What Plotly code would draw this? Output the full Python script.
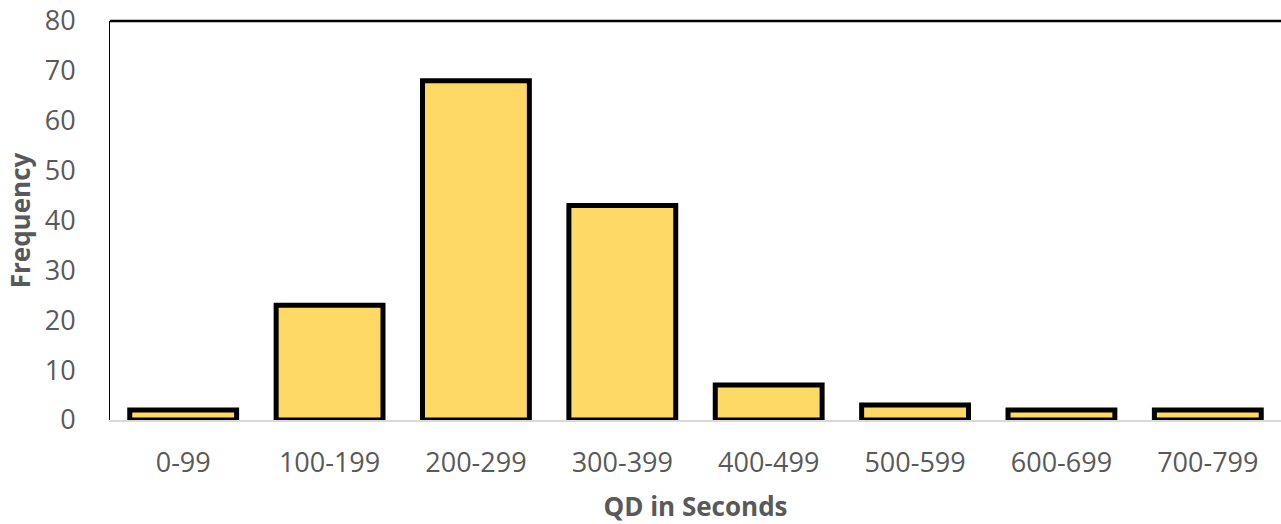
import plotly.graph_objects as go

# Histogram of QD durations binned in 100-second ranges
bins = ["0-99", "100-199", "200-299", "300-399", "400-499", "500-599", "600-699", "700-799"]
frequency = [2, 23, 68, 43, 7, 3, 2, 2]
y_ticks = [0, 10, 20, 30, 40, 50, 60, 70, 80]

fig = go.Figure(
    go.Bar(
        x=bins,
        y=frequency,
        marker=dict(color="#FFD966", line=dict(color="black", width=5)),
    )
)

tick_font = dict(family="Open Sans, DejaVu Sans, sans-serif", size=27, color="#595959")
title_font = dict(family="Open Sans, DejaVu Sans, sans-serif", size=26, color="#595959")

fig.update_layout(
    width=1281,
    height=524,
    margin=dict(l=110, r=0, t=21, b=104),
    paper_bgcolor="white",
    plot_bgcolor="white",
    bargap=0.27,
    showlegend=False,
    xaxis=dict(
        title=dict(text="<b>QD in Seconds</b>", font=title_font, standoff=22),
        tickfont=tick_font,
        showline=True,
        linecolor="#d9d9d9",
        linewidth=2,
        showgrid=False,
        ticks="outside",
        ticklen=18,
        tickcolor="rgba(0,0,0,0)",
    ),
    yaxis=dict(
        title=dict(text="<b>Frequency</b>", font=title_font, standoff=6),
        range=[0, 80],
        tickvals=y_ticks,
        tickfont=tick_font,
        showline=True,
        linecolor="black",
        linewidth=1,
        showgrid=False,
        zeroline=False,
        ticks="outside",
        ticklen=28,
        tickcolor="rgba(0,0,0,0)",
    ),
    shapes=[
        dict(type="line", xref="paper", yref="paper", x0=0, x1=1, y0=1, y1=1,
             line=dict(color="black", width=2.5)),
    ],
)

fig.write_html("out.html")
